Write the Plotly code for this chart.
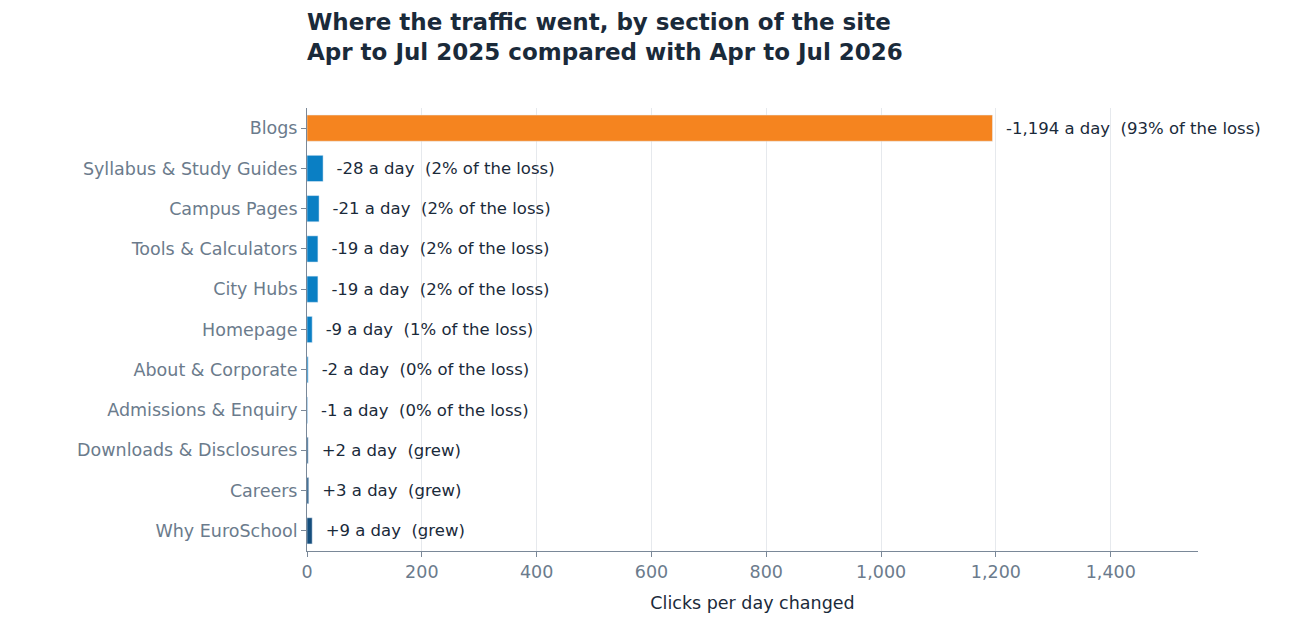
import plotly.graph_objects as go

sections = ["Blogs", "Syllabus & Study Guides", "Campus Pages", "Tools & Calculators", "City Hubs",
            "Homepage", "About & Corporate", "Admissions & Enquiry", "Downloads & Disclosures",
            "Careers", "Why EuroSchool"]
change = [-1194, -28, -21, -19, -19, -9, -2, -1, 2, 3, 9]
share = [93, 2, 2, 2, 2, 1, 0, 0, None, None, None]

size = [abs(c) for c in change]
colors = []
labels = []
for i, c in enumerate(change):
    if i == 0:
        colors.append("#f5841f")
    elif c < 0:
        colors.append("#0a7fc4")
    else:
        colors.append("#154e7c")
    if c < 0:
        labels.append(f"  -{abs(c):,} a day  ({share[i]}% of the loss)")
    else:
        labels.append(f"  +{c:,} a day  (grew)")

fig = go.Figure(go.Bar(
    x=size, y=sections, orientation="h", marker_color=colors, width=0.65,
    text=labels, textposition="outside", cliponaxis=False,
    textfont=dict(size=16.5, color="#1a2a3a"),
))

fig.update_layout(
    width=1290, height=630,
    margin=dict(l=299, r=100, t=100, b=87),
    paper_bgcolor="white", plot_bgcolor="white",
    font=dict(family="DejaVu Sans", color="#6b7b8c"),
    title=dict(text="<b>Where the traffic went, by section of the site<br>Apr to Jul 2025 compared with Apr to Jul 2026</b>",
               x=0, xref="paper", xanchor="left", y=0.965, yanchor="top",
               font=dict(size=23, color="#1a2a3a")),
    showlegend=False,
)
fig.update_xaxes(range=[0, 1552], dtick=200, tickformat=",", gridcolor="#e6e9ed",
                 showline=True, linecolor="#7a8898", ticks="outside", tickcolor="#7a8898",
                 tickfont=dict(size=17.5), zeroline=False, automargin=False,
                 title=dict(text="Clicks per day changed", font=dict(size=17.5, color="#1a2a3a")))
fig.update_yaxes(autorange="reversed", showline=True, linecolor="#7a8898", ticks="outside",
                 tickcolor="#7a8898", tickfont=dict(size=17.5), automargin=False)

fig.write_html("out.html")
